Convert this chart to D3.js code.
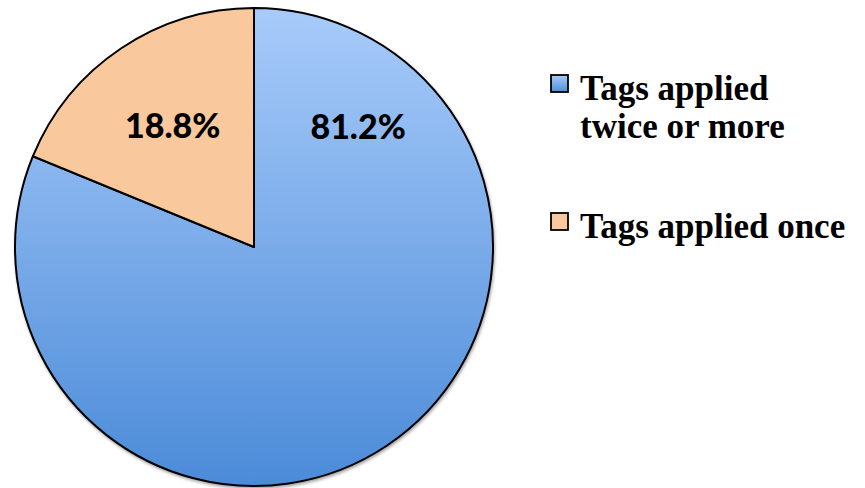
<!DOCTYPE html>
<html>
<head>
<meta charset="utf-8">
<script src="https://cdn.jsdelivr.net/npm/d3@7"></script>
<style>
  body { margin: 0; background: #fff; }
</style>
</head>
<body>
<div id="chart"></div>
<script>
var categories = ["Tags applied twice or more", "Tags applied once"];
var values = [81.2, 18.8];
var legendLines = [["Tags applied", "twice or more"], ["Tags applied once"]];
var labels = ["81.2%", "18.8%"];

var width = 865, height = 488;
var cx = 254, cy = 247, radius = 239;

var svg = d3.select("#chart")
    .append("svg")
    .attr("width", width)
    .attr("height", height);

var defs = svg.append("defs");
// gradient coords are in the pie group's space (centered at 0,0)
var blueGrad = defs.append("linearGradient")
    .attr("id", "blueGrad")
    .attr("gradientUnits", "userSpaceOnUse")
    .attr("x1", 0).attr("y1", -radius)
    .attr("x2", 0).attr("y2", radius);
blueGrad.append("stop").attr("offset", "0%").attr("stop-color", "#a8cbfa");
blueGrad.append("stop").attr("offset", "50%").attr("stop-color", "#7aabe9");
blueGrad.append("stop").attr("offset", "100%").attr("stop-color", "#4b8bd8");

var legGrad = defs.append("linearGradient")
    .attr("id", "legGrad")
    .attr("x1", 0).attr("y1", 0).attr("x2", 0).attr("y2", 1);
legGrad.append("stop").attr("offset", "0%").attr("stop-color", "#a8cbfa");
legGrad.append("stop").attr("offset", "100%").attr("stop-color", "#4f8fda");

var shadow = defs.append("filter").attr("id", "shadow")
    .attr("x", "-5%").attr("y", "-5%").attr("width", "110%").attr("height", "110%");
shadow.append("feDropShadow")
    .attr("dx", 1).attr("dy", 2).attr("stdDeviation", 1.5)
    .attr("flood-color", "#000").attr("flood-opacity", 0.35);

var fills = ["url(#blueGrad)", "#f9c89c"];
var legendFills = ["url(#legGrad)", "#f9c89c"];

var pie = d3.pie().sort(null).value(d => d);
var arc = d3.arc().innerRadius(0).outerRadius(radius);
var arcs = pie(values);

var g = svg.append("g")
    .attr("transform", "translate(" + cx + "," + cy + ")");

g.append("g")
    .attr("filter", "url(#shadow)")
    .selectAll("path")
    .data(arcs)
    .enter().append("path")
    .attr("d", arc)
    .attr("fill", (d, i) => fills[i])
    .attr("stroke", "#000")
    .attr("stroke-width", 2)
    .attr("stroke-linejoin", "round");

// label placement: orange one sits at its centroid, blue one is pulled up to the upper right
var labelAngles = [0.714, null];
var labelRadius = [159, 146];
g.selectAll(".pct")
    .data(arcs)
    .enter().append("text")
    .attr("class", "pct")
    .attr("x", (d, i) => {
        var a = labelAngles[i] != null ? labelAngles[i] : (d.startAngle + d.endAngle) / 2;
        return Math.sin(a) * labelRadius[i];
    })
    .attr("y", (d, i) => {
        var a = labelAngles[i] != null ? labelAngles[i] : (d.startAngle + d.endAngle) / 2;
        return -Math.cos(a) * labelRadius[i];
    })
    .attr("dy", "0.36em")
    .attr("text-anchor", "middle")
    .style("font-family", "Lato, 'Open Sans', sans-serif")
    .style("font-weight", "900")
    .style("font-size", "34px")
    .attr("fill", "#000")
    .text((d, i) => labels[i]);

// legend
var legendY = [74, 212];
var legend = svg.append("g");
categories.forEach(function (c, i) {
    var row = legend.append("g")
        .attr("transform", "translate(551," + legendY[i] + ")");
    row.append("rect")
        .attr("x", 0).attr("y", 1)
        .attr("width", 17).attr("height", 17)
        .attr("fill", legendFills[i])
        .attr("stroke", "#000")
        .attr("stroke-width", 1.8);
    var txt = row.append("text")
        .attr("x", 29)
        .attr("y", 26)
        .style("font-family", "'Liberation Serif', 'Times New Roman', serif")
        .style("font-weight", "bold")
        .style("font-size", "35px")
        .attr("fill", "#000");
    legendLines[i].forEach(function (line, j) {
        txt.append("tspan")
            .attr("x", 29)
            .attr("dy", j === 0 ? 0 : 38)
            .text(line);
    });
});
</script>
</body>
</html>
